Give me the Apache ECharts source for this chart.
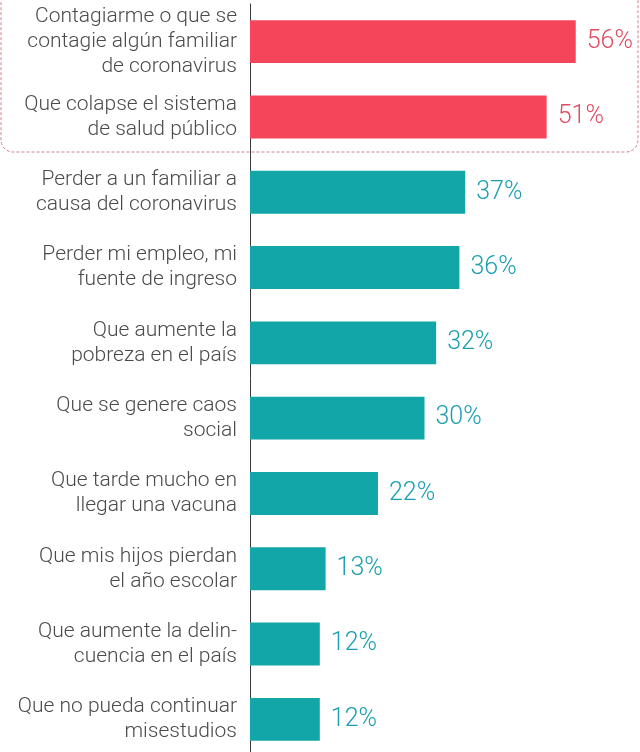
<!DOCTYPE html>
<html>
<head>
<meta charset="utf-8">
<script src="https://cdn.jsdelivr.net/npm/echarts@6/dist/echarts.min.js"></script>
<style>
  html, body { margin: 0; padding: 0; background: #ffffff; }
  #chart { width: 640px; height: 752px; }
</style>
</head>
<body>
<div id="chart"></div>
<script>
// Main worries, share of respondents (%)
const categories = [
  'Contagiarme o que se\ncontagie algún familiar\nde coronavirus',
  'Que colapse el sistema\nde salud público',
  'Perder a un familiar a\ncausa del coronavirus',
  'Perder mi empleo, mi\nfuente de ingreso',
  'Que aumente la\npobreza en el país',
  'Que se genere caos\nsocial',
  'Que tarde mucho en\nllegar una vacuna',
  'Que mis hijos pierdan\nel año escolar',
  'Que aumente la delin-\ncuencia en el país',
  'Que no pueda continuar\nmisestudios'
];
const values = [56, 51, 37, 36, 32, 30, 22, 13, 12, 12];
// The first two answers are highlighted in red
const highlightCount = 2;

const RED = '#f4455a';
const RED_LABEL = '#e04d63';
const TEAL = '#12a6a8';
const TEAL_LABEL = '#1b9fb0';
const FONT = 'Roboto, "Liberation Sans", sans-serif';

const chart = echarts.init(document.getElementById('chart'), null, { renderer: 'canvas' });

const barData = values.map((v, i) => {
  const hot = i < highlightCount;
  return {
    value: v,
    itemStyle: { color: hot ? RED : TEAL },
    label: { color: hot ? RED_LABEL : TEAL_LABEL }
  };
});

chart.setOption({
  backgroundColor: '#ffffff',
  animation: false,
  grid: {
    left: 250, width: 349, top: 4, height: 753,
    containLabel: false,
    outerBoundsMode: 'none'
  },
  xAxis: {
    type: 'value',
    min: 0,
    max: 60,
    show: false
  },
  yAxis: {
    type: 'category',
    data: categories,
    inverse: true,
    axisLine: { show: true, lineStyle: { color: '#3a3a3a', width: 1 } },
    axisTick: { show: false },
    axisLabel: {
      margin: 13,
      align: 'right',
      color: '#4a4a4a',
      fontFamily: FONT,
      fontWeight: 300,
      fontSize: 21,
      lineHeight: 25
    }
  },
  series: [{
    type: 'bar',
    data: barData,
    barCategoryGap: '43%',
    label: {
      show: true,
      position: 'right',
      distance: 11,
      fontFamily: FONT,
      fontWeight: 300,
      fontSize: 25,
      formatter: '{c}%'
    }
  }],
  graphic: [{
    type: 'rect',
    silent: true,
    z: -1,
    shape: { x: 1, y: -20, width: 637, height: 172, r: 12 },
    style: { fill: 'none', stroke: '#cf8088', lineWidth: 1, lineDash: [3, 2] }
  }]
});
</script>
</body>
</html>
